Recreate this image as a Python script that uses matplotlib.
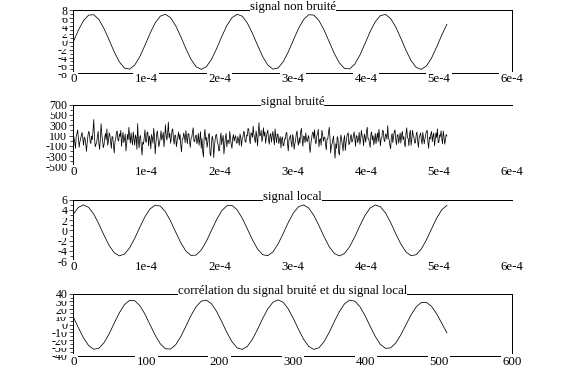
import matplotlib

matplotlib.use("Agg")

import matplotlib.pyplot as plt
import numpy as np

plt.rcParams.update(
    {
        "font.family": "serif",
        "font.serif": ["Liberation Serif", "Times New Roman", "DejaVu Serif"],
        "font.size": 9.3,
        "text.antialiased": True,
        "lines.antialiased": False,
        "patch.antialiased": False,
        "lines.linewidth": 0.5,
        "axes.linewidth": 0.5,
        "figure.facecolor": "white",
    }
)

# sampling: 1 us per sample, 512 samples; smooth traces are given every STEP samples
STEP = 7
NOISE_STEP = 1
DT = 1e-6

clean = [
    0.00, 2.98, 5.39, 6.78, 6.88, 5.66, 3.37, 0.44, -2.58, -5.10,
    -6.66, -6.94, -5.91, -3.75, -0.88, 2.16, 4.79, 6.51, 6.99, 6.13,
    4.11, 1.31, -1.74, -4.46, -6.33, -7.00, -6.33, -4.46, -1.74, 1.31,
    4.11, 6.13, 6.99, 6.51, 4.79, 2.16, -0.88, -3.75, -5.91, -6.94,
    -6.66, -5.10, -2.58, 0.44, 3.37, 5.66, 6.88, 6.78, 5.39, 2.98,
    0.00, -2.98, -5.39, -6.78, -6.88, -5.66, -3.37, -0.44, 2.58, 5.10,
    6.66, 6.94, 5.91, 3.75, 0.88, -2.16, -4.79, -6.51, -6.99, -6.13,
    -4.11, -1.31, 1.74, 4.46,
]

noisy = [
    120, 60, -40, -150, 85, 140, 210, 30, -130, -20, 30, 110, 160, 40, -90, 70,
    45, -60, -210, -40, 95, 180, 150, -10, -60, 90, 20, 200, 410, 50, -120, -70,
    -30, 90, 180, -60, -170, 40, 330, 120, 5, -140, -80, 60, 140, 10, 230, -90,
    -20, 150, 110, -30, -150, 80, 70, -110, -240, -20, 35, 160, 190, 20, -10, 130,
    80, 200, -110, 50, 160, -40, 25, 130, -200, -60, 120, 20, 260, 90, -50, 150,
    15, -80, 170, 40, -90, 110, 55, -170, 330, 0, -140, 70, 100, -120, -280, -30,
    -70, 60, 210, -20, -30, 170, 150, -100, 90, 30, -160, 120, 60, -50, 240, 80,
    -260, -40, 130, 190, 20, -120, -40, 60, 190, 10, 75, 160, -120, 40, 310, 100,
    10, 150, 360, 60, 140, -50, 50, 200, 230, 20, -70, 110, 95, -120, -10, 70,
    170, 20, 120, -90, -220, 30, 40, 150, 80, -40, 195, 60, -60, 130, 135, -20,
    -130, 40, 60, 170, 250, -10, -20, 90, 110, -60, 5, 140, -90, 30, 175, -150,
    40, -210, -320, 80, 220, 10, 65, -130, -30, 120, 140, -250, -300, -50, 90, 20,
    -330, -120, 25, 110, 120, -30, -70, -200, -190, 50, 150, -80, 30, 100, -260, -110,
    60, 140, -120, 0, 10, -60, 180, 40, -80, -150, 45, 120, -10, 60, 100, -40,
    -50, 80, 20, -90, 130, 60, -110, 30, 70, 180, 160, -20, -30, 110, 90, 240,
    215, 40, -60, 150, 140, 60, 280, 120, 30, -40, 190, 70, -100, 160, 350, 90,
    110, 200, -20, 60, 250, 90, 170, -50, 60, 150, 205, 20, -70, 100, 140, -30,
    90, 180, 35, -80, 230, 70, -40, 130, 120, -60, 10, 80, -140, 30, 75, -100,
    -90, 40, 30, 140, 160, -70, -200, 20, 60, 110, -30, -120, 120, 50, -170, -60,
    10, 130, 190, -20, -90, 60, -50, 170, 240, 30, -110, 90, 80, -40, 150, 10,
    -20, 60, 100, -130, -230, -50, 50, 150, 170, 40, 210, -30, -60, 90, 130, 220,
    -120, 20, 40, -90, 200, 120, -10, 60, 70, -70, -180, 30, 30, 140, 260, 70,
    -240, -100, -60, 30, 90, -180, -340, -60, -150, 80, 40, -230, -280, -20, 110, 20,
    -90, -200, 20, 100, -190, -40, 60, 130, 150, -80, -50, 70, 120, -30, 0, 90,
    170, 50, -110, 100, 80, -40, 30, 160, -70, 20, 200, 90, 50, -100, 130, 70,
    -30, 180, 260, 40, 40, -50, -130, 120, 170, 10, 95, -80, 10, 140, -60, 60,
    150, -20, 220, 90, -100, 40, 60, 200, 190, 10, -20, 130, 110, 30, 290, 60,
    15, -90, -160, 70, 140, -40, 70, 180, 210, 20, -80, 100, 120, -50, 35, 150,
    -50, 110, 180, 20, 80, -60, -120, 140, 250, 60, 40, -100, 130, 200, -90, 30,
    200, 90, 60, -50, -40, 120, 170, 0, -130, 60, 100, 150, 20, -70, 160, 50,
    -60, 40, 120, 180, 200, -30, -150, 70, 30, 130, 180, -20, 90, 150, -100, 20,
    150, 60, 230, -40, -30, 110, 80, 190, 40, -60, 190, 70, -70, 30, 120, 90,
]

local = [
    3.19, 4.52, 5.00, 4.52, 3.19, 1.24, -0.94, -2.94, -4.38, -4.99,
    -4.65, -3.42, -1.55, 0.63, 2.68, 4.22, 4.96, 4.76, 3.65, 1.84,
    -0.31, -2.41, -4.05, -4.91, -4.84, -3.85, -2.13, 0.00, 2.13, 3.85,
    4.84, 4.91, 4.05, 2.41, 0.31, -1.84, -3.65, -4.76, -4.96, -4.22,
    -2.68, -0.63, 1.55, 3.42, 4.65, 4.99, 4.38, 2.94, 0.94, -1.24,
    -3.19, -4.52, -5.00, -4.52, -3.19, -1.24, 0.94, 2.94, 4.38, 4.99,
    4.65, 3.42, 1.55, -0.63, -2.68, -4.22, -4.96, -4.76, -3.65, -1.84,
    0.31, 2.41, 4.05, 4.91,
]

correlation = [
    9.9, -4.0, -17.1, -27.0, -31.7, -30.4, -23.3, -11.8, 2.0, 15.4,
    25.9, 31.4, 31.0, 24.7, 13.6, 0.0, -13.6, -24.7, -31.0, -31.4,
    -25.9, -15.4, -2.0, 11.8, 23.3, 30.4, 31.7, 27.0, 17.1, 4.0,
    -9.9, -21.9, -29.8, -31.9, -28.0, -18.8, -6.0, 8.0, 20.4, 29.0,
    32.0, 29.0, 20.4, 8.0, -6.0, -18.8, -28.0, -31.9, -29.8, -21.9,
    -9.9, 4.0, 17.1, 27.0, 31.7, 30.4, 23.3, 11.8, -2.0, -15.2,
    -25.4, -30.5, -29.9, -23.7, -13.0, 0.0, 12.8, 23.0, 28.7, 28.9,
    23.6, 13.9, 1.8, -10.5,
]

time_ticks = [0, 1e-4, 2e-4, 3e-4, 4e-4, 5e-4, 6e-4]
time_labels = ["0", "1e-4", "2e-4", "3e-4", "4e-4", "5e-4", "6e-4"]
lag_ticks = [0, 100, 200, 300, 400, 500, 600]
lag_labels = ["0", "100", "200", "300", "400", "500", "600"]

W, H = 584, 384
LEFT, RIGHT = 73.3, 512.0
# (top, bottom) of each frame in pixels from the top
ROWS = [(10.3, 73.3), (104.7, 166.3), (199.8, 261.0), (293.7, 355.7)]


def make_axes(fig, row):
    top, bottom = ROWS[row]
    return fig.add_axes([LEFT / W, 1 - bottom / H, (RIGHT - LEFT) / W, (bottom - top) / H])


def frame(ax, title, xlim, ylim, xticks, xlabels, yticks, yminor, closed):
    ax.set_xlim(xlim)
    ax.set_ylim(ylim)
    for side in ("top", "right", "bottom"):
        ax.spines[side].set_visible(False)
    ax.set_xticks([])
    ax.set_yticks(yticks)
    ax.set_yticks(yminor, minor=True)
    ax.set_yticklabels([str(v) for v in yticks])
    ax.tick_params(axis="y", which="major", direction="out", length=3.2, width=0.5, pad=1.0, labelsize=8.6)
    ax.tick_params(axis="y", which="minor", direction="out", length=2.2, width=0.5)
    for lbl in ax.get_yticklabels():
        lbl.set_bbox(dict(facecolor="white", edgecolor="none", pad=0))

    kw = dict(transform=ax.transAxes, color="black", lw=0.5, clip_on=False, zorder=1)
    ax.plot([0, 1], [1, 1], **kw)
    ax.text(0.5, 1, title, transform=ax.transAxes, ha="center", va="baseline",
            bbox=dict(facecolor="white", edgecolor="none", pad=0), zorder=3)
    if closed:
        ax.plot([1, 1], [0, 1], **kw)
        ax.plot([0, 1], [0, 0], **kw)
    for v, lab in zip(xticks, xlabels):
        ax.text(v, 0, lab, transform=ax.get_xaxis_transform(), ha="center", va="top",
                bbox=dict(facecolor="white", edgecolor="none", pad=1.0), zorder=3, clip_on=False)


def curve(ax, x, y):
    # thin smooth trace, close to the 1 px line of the original
    ax.plot(x, y, color="black", lw=0.55, antialiased=True)


fig = plt.figure(figsize=(W / 100, H / 100), dpi=100)

ax1 = make_axes(fig, 0)
curve(ax1, np.arange(len(clean)) * STEP * DT, clean)
frame(ax1, "signal non bruité", (0, 6e-4), (-8, 8), time_ticks, time_labels,
      list(range(-8, 9, 2)), list(range(-7, 8, 2)), True)

ax2 = make_axes(fig, 1)
curve(ax2, np.arange(len(noisy)) * NOISE_STEP * DT, noisy)
frame(ax2, "signal bruité", (0, 6e-4), (-500, 700), time_ticks, time_labels,
      list(range(-500, 701, 200)), list(range(-400, 601, 200)), False)

ax3 = make_axes(fig, 2)
curve(ax3, np.arange(len(local)) * STEP * DT, local)
frame(ax3, "signal local", (0, 6e-4), (-6, 6), time_ticks, time_labels,
      list(range(-6, 7, 2)), list(range(-5, 6, 2)), False)

ax4 = make_axes(fig, 3)
curve(ax4, np.arange(len(correlation)) * STEP, correlation)
frame(ax4, "corrélation du signal bruité et du signal local", (0, 600), (-40, 40), lag_ticks, lag_labels,
      list(range(-40, 41, 10)), list(range(-35, 36, 10)), True)

fig.savefig("out.png", dpi=100)
